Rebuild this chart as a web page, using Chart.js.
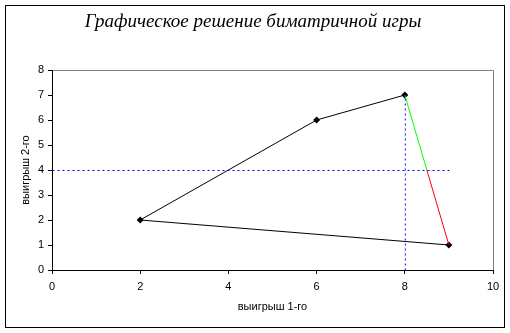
<!DOCTYPE html>
<html>
<head>
<meta charset="utf-8">
<script src="https://cdn.jsdelivr.net/npm/chart.js@4"></script>
<style>
  html, body { margin: 0; padding: 0; background: #fff; }
  #wrap { width: 510px; height: 333px; }
</style>
</head>
<body>
<div id="wrap"><canvas id="chart" width="510" height="333"></canvas></div>
<script>
// data
var title = 'Графическое решение биматричной игры';
var xLabel = 'выигрыш 1-го';
var yLabel = 'выигрыш 2-го';

var polyX = [2, 6, 8];
var polyY = [2, 6, 7];
var bottomX = [9, 2];
var bottomY = [1, 2];
var greenX = [8, 8.5];
var greenY = [7, 4];
var redX = [8.5, 9];
var redY = [4, 1];
var pointsX = [2, 6, 8, 9];
var pointsY = [2, 6, 7, 1];
var hLineX = [0, 9];
var hLineY = [4, 4];
var vLineX = [8, 8];
var vLineY = [0, 7];

function pts(xs, ys) {
    return xs.map((x, i) => ({ x: x, y: ys[i] }));
}

function line(xs, ys, color, dash) {
    return {
        data: pts(xs, ys),
        showLine: true,
        borderColor: color,
        borderWidth: 1,
        borderDash: dash || [],
        pointRadius: 0,
        fill: false
    };
}

var decor = {
    id: 'decor',
    beforeDraw(chart) {
        var ctx = chart.ctx, a = chart.chartArea;
        ctx.save();
        ctx.fillStyle = '#fff';
        ctx.fillRect(0, 0, chart.width, chart.height);
        ctx.strokeStyle = '#000';
        ctx.lineWidth = 1;
        ctx.strokeRect(5.5, 5.5, 499, 322);
        ctx.strokeStyle = '#808080';
        ctx.beginPath();
        ctx.moveTo(a.left, a.top + 0.5);
        ctx.lineTo(a.right + 0.5, a.top + 0.5);
        ctx.lineTo(a.right + 0.5, a.bottom);
        ctx.stroke();
        ctx.restore();
    },
    // crisp 1px dotted guide lines
    beforeDatasetDraw(chart, args) {
        if (args.index < 2) {
            chart.ctx.save();
            chart.ctx.translate(0.5, 0.5);
        }
    },
    afterDatasetDraw(chart, args) {
        if (args.index < 2) chart.ctx.restore();
    },
    afterDraw(chart) {
        var ctx = chart.ctx, a = chart.chartArea;
        ctx.save();
        ctx.fillStyle = '#000';
        ctx.textAlign = 'center';
        ctx.textBaseline = 'middle';
        ctx.font = 'italic 19px "Liberation Serif", serif';
        ctx.fillText(title, 253, 22);
        ctx.font = '11px "Liberation Sans", Arial, sans-serif';
        ctx.fillText(xLabel, (a.left + a.right) / 2, 307);
        ctx.translate(26, (a.top + a.bottom) / 2);
        ctx.rotate(-Math.PI / 2);
        ctx.fillText(yLabel, 0, 0);
        ctx.restore();
    }
};

new Chart(document.getElementById('chart'), {
    type: 'scatter',
    data: {
        datasets: [
            line(hLineX, hLineY, '#0000ff', [2, 3]),
            line(vLineX, vLineY, '#0000ff', [2, 3]),
            line(polyX, polyY, '#000000'),
            line(bottomX, bottomY, '#000000'),
            line(greenX, greenY, '#00ff00'),
            line(redX, redY, '#ff0000'),
            {
                data: pts(pointsX, pointsY),
                pointStyle: 'rectRot',
                pointRadius: 3.5,
                pointBackgroundColor: '#000',
                pointBorderColor: '#000',
                borderWidth: 0,
                showLine: false
            }
        ]
    },
    options: {
        responsive: false,
        animation: false,
        layout: { padding: { top: 70, right: 17, left: 0, bottom: 0 } },
        plugins: {
            legend: { display: false },
            tooltip: { enabled: false }
        },
        scales: {
            x: {
                type: 'linear',
                min: 0, max: 10,
                ticks: { stepSize: 2, color: '#000', padding: 6, maxRotation: 0,
                          font: { family: '"Liberation Sans", Arial', size: 11 } },
                grid: { drawOnChartArea: false, tickLength: 4, color: '#000' },
                border: { color: '#000' },
                afterFit(s) { s.height = 63; }
            },
            y: {
                min: 0, max: 8,
                ticks: { stepSize: 1, color: '#000', padding: 4,
                          font: { family: '"Liberation Sans", Arial', size: 11 } },
                grid: { drawOnChartArea: false, tickLength: 4, color: '#000' },
                border: { color: '#000' },
                afterFit(s) { s.width = 52; }
            }
        }
    },
    plugins: [decor]
});
</script>
</body>
</html>
